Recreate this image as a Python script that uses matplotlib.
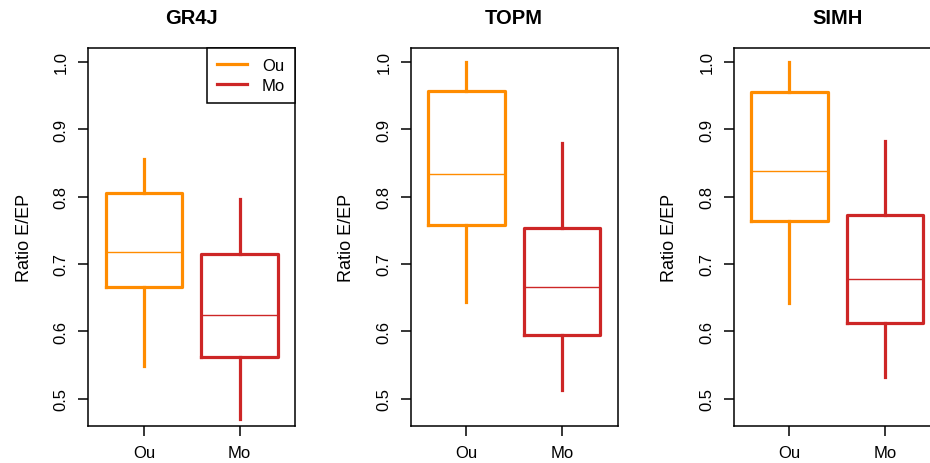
import matplotlib.pyplot as plt

plt.rcParams.update({
    'font.family': 'sans-serif',
    'font.sans-serif': ['Liberation Sans', 'DejaVu Sans'],
})

models = ['GR4J', 'TOPM', 'SIMH']
groups = ['Ou', 'Mo']
colors = ['#FF8C00', '#CD2626']

# five-number summaries, one value per model
ou_low = [0.548, 0.643, 0.642]
ou_q1 = [0.665, 0.758, 0.764]
ou_med = [0.718, 0.834, 0.838]
ou_q3 = [0.805, 0.957, 0.955]
ou_high = [0.856, 1.000, 1.000]

mo_low = [0.469, 0.513, 0.532]
mo_q1 = [0.561, 0.594, 0.612]
mo_med = [0.624, 0.665, 0.677]
mo_q3 = [0.715, 0.754, 0.773]
mo_high = [0.797, 0.880, 0.883]

yticks = [0.5, 0.6, 0.7, 0.8, 0.9, 1.0]

W, H = 930, 464
fig = plt.figure(figsize=(W / 100, H / 100), dpi=100)
lefts = [88.3, 410.7, 733.7]
ax_w = 207
ax_bottom, ax_top = 427, 49

for k, name in enumerate(models):
    ax = fig.add_axes([lefts[k] / W, (H - ax_bottom) / H, ax_w / W, (ax_bottom - ax_top) / H])
    stats = [
        dict(whislo=ou_low[k], q1=ou_q1[k], med=ou_med[k], q3=ou_q3[k], whishi=ou_high[k], fliers=[]),
        dict(whislo=mo_low[k], q1=mo_q1[k], med=mo_med[k], q3=mo_q3[k], whishi=mo_high[k], fliers=[]),
    ]
    for i, (st, col) in enumerate(zip(stats, colors)):
        ax.bxp([st], positions=[i + 1], widths=0.8, showcaps=False, showfliers=False,
               boxprops=dict(color=col, linewidth=2.3),
               whiskerprops=dict(color=col, linewidth=2.3),
               medianprops=dict(color=col, linewidth=1.0),
               manage_ticks=False)
    ax.set_xlim(0.42, 2.58)
    ax.set_ylim(0.4592, 1.0208)
    ax.set_xticks([1, 2])
    ax.set_xticklabels(groups, fontsize=12)
    ax.set_yticks(yticks)
    ax.set_yticklabels([f'{v:.1f}' for v in yticks], fontsize=12, rotation=90, va='center')
    ax.tick_params(direction='out', length=7, width=1.1, pad=7)
    for sp in ax.spines.values():
        sp.set_linewidth(1.1)
    ax.set_ylabel('Ratio E/EP', fontsize=13, labelpad=15)
    ax.set_title(name, fontsize=14.5, fontweight='bold', pad=18)
    if k == 0:
        handles = [plt.Line2D([], [], color=c, linewidth=2.3) for c in colors]
        leg = ax.legend(handles, groups, loc='upper right', fontsize=12, fancybox=False,
                        framealpha=1, edgecolor='black', borderaxespad=0, handlelength=1.8,
                        borderpad=0.6, labelspacing=0.3, handletextpad=0.9)
        leg.get_frame().set_linewidth(1.1)

fig.savefig('out.png', dpi=100)
plt.close(fig)
